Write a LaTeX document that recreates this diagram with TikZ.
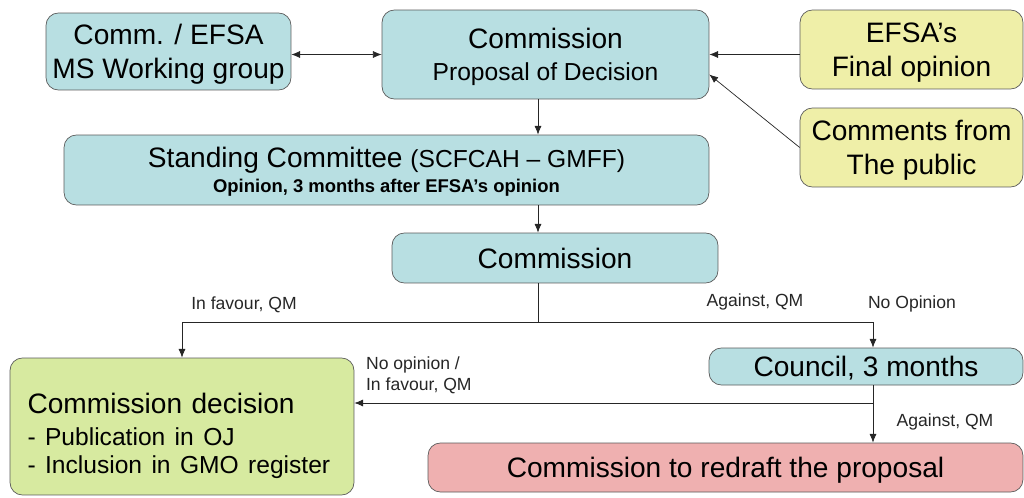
\documentclass[tikz,border=0pt]{standalone}
\usepackage{fontspec}
\setmainfont{Liberation Sans}
\usetikzlibrary{positioning}
\usetikzlibrary{calc,arrows.meta}

\definecolor{boxteal}{HTML}{B8DFE2}
\definecolor{boxyellow}{HTML}{EFEFA8}
\definecolor{boxgreen}{HTML}{D7EAA0}
\definecolor{boxpink}{HTML}{EFB0B0}
\definecolor{boxline}{HTML}{5A5A5A}

\newcommand{\txtbig}{\fontsize{16}{19}\selectfont}
\newcommand{\txtmid}{\fontsize{14}{18}\selectfont}
\newcommand{\txtsmall}{\fontsize{10.5}{15}\selectfont}
\newcommand{\txtvote}{\fontsize{10}{12}\selectfont}

\begin{document}
\begin{tikzpicture}[x=0.02cm, y=-0.02cm,
    stage/.style={draw=boxline, rounded corners=7pt, fill=boxteal, align=center, inner sep=0pt, text depth=0pt, font=\txtbig},
    input/.style={stage, fill=boxyellow},
    flow/.style={-{Latex[length=5pt,width=4pt]}, draw=black!85},
    vote/.style={font=\txtvote, inner sep=1pt, text=black!85}]

    \useasboundingbox (0,0) rectangle (1024,497);

    \node[stage, minimum width=4.9cm, minimum height=1.54cm] (wgroup) at (168.5,51.5) {Comm. / EFSA\\MS Working group};
    \node[stage, minimum width=6.54cm, minimum height=1.78cm] (proposal) at (545.5,54.5) {Commission\\[-1pt]{\txtmid Proposal of Decision}};
    \node[input, minimum width=4.46cm, minimum height=1.58cm] (efsa) at (911.5,49.5) {EFSA's\\Final opinion};
    \node[input, minimum width=4.46cm, minimum height=1.58cm] (public) at (911.5,147.5) {Comments from\\The public};
    \node[stage, minimum width=12.9cm, minimum height=1.4cm] (standing) at (386.5,170) {Standing Committee {\txtmid (SCFCAH – GMFF)}\\[-4.5pt]{\txtsmall\bfseries Opinion, 3 months after EFSA's opinion}};
    \node[stage, minimum width=6.52cm, minimum height=1.0cm] (commission) at (555,258) {Commission};
    \node[stage, minimum width=6.28cm, minimum height=0.74cm] (council) at (866,366.5) {Council, 3 months};
    \node[stage, fill=boxgreen, text width=6.18cm, text depth=, inner xsep=0.35cm, minimum height=2.74cm, align=left] (decision) at (182,426.5) {\rule{0pt}{22pt}Commission decision\\[-1pt]{\txtmid - Publication in OJ}\\[-3pt]{\txtmid - Inclusion in GMO register}};
    \node[stage, fill=boxpink, minimum width=11.9cm, minimum height=0.98cm] (redraft) at (725.5,467.5) {Commission to redraft the proposal};

    \coordinate (spine) at (538,322);
    \coordinate (cdown) at (873,0);
    \coordinate (back) at (873,403);

    \draw[flow, {Latex[length=5pt,width=4pt]}-{Latex[length=5pt,width=4pt]}] (wgroup.east |- proposal.east) -- (proposal.west);
    \draw[flow] (efsa.west |- proposal.east) -- (proposal.east);
    \draw[flow] (public.west) -- ($(proposal.east)+(0,20)$);
    \draw[flow] (proposal.south -| spine) -- (standing.north -| spine);
    \draw[flow] (standing.south -| spine) -- (commission.north -| spine);
    \draw[black!85] (commission.south -| spine) -- (spine);
    \draw[flow] (spine) -| (decision.north);
    \draw[flow] (spine) -| (council.north -| cdown);
    \draw[flow] (council.south -| cdown) -- (redraft.north -| cdown);
    \draw[flow] (back) -- (decision.east |- back);

    \node[vote] (favour) at (244,305) {In favour, QM};
    \node[vote] (against) at (755,302) {Against, QM};
    \node[vote] (noop) at (912,304) {No Opinion};
    \node[vote, align=left, anchor=north west] (councilyes) at (364,355) {No opinion /\\In favour, QM};
    \node[vote] (councilno) at (945,422) {Against, QM};

\end{tikzpicture}
\end{document}
